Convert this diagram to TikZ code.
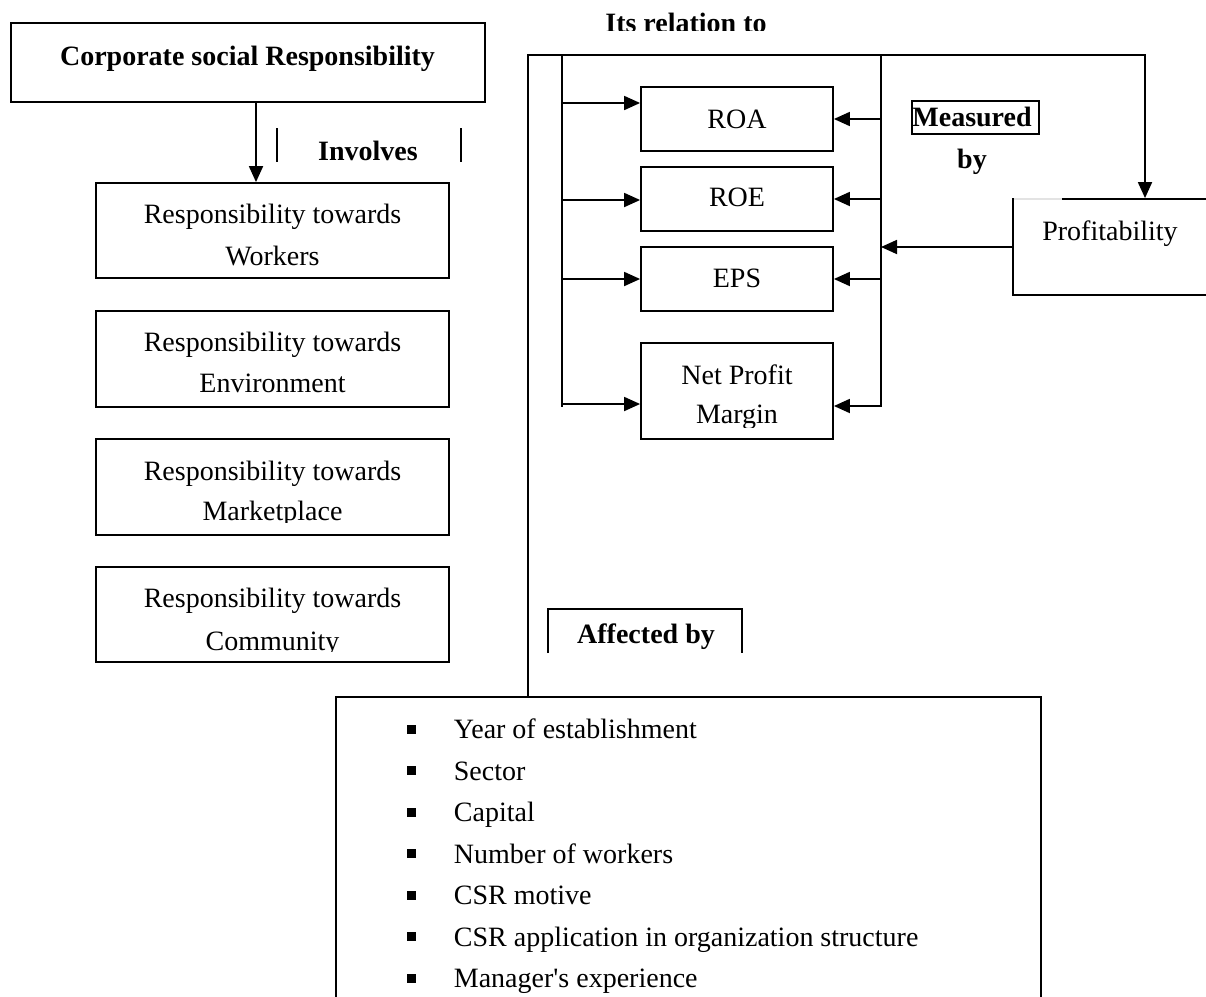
\documentclass[tikz,border=0pt]{standalone}
\usepackage{fontspec}
\setmainfont{Liberation Serif}
\usetikzlibrary{arrows.meta,calc}
\begin{document}
\begin{tikzpicture}[x=1pt,y=-1pt,
  line width=1.8pt,
  arr/.style={-{Triangle[length=16pt,width=14pt]}},
  tx/.style={font=\fontsize{28}{34}\selectfont, inner sep=0pt, anchor=base},
  bx/.style={font=\fontsize{28}{34}\selectfont\bfseries, inner sep=0pt, anchor=base},
  rbox/.style 2 args={draw, rectangle, inner sep=0pt, minimum width=#1, minimum height=#2},
]
\clip (0,0) rectangle (1206,996);
\fill[white] (0,0) rectangle (1206,996);

% ---- left column ----
\node[rbox={474pt}{79pt}] (csr) at (248,62.5) {};
\node[bx] (csrt) at (247.5,65) {Corporate social Responsibility};

\node[rbox={353pt}{95pt}] (w) at (272.5,230.5) {};
\node[tx] (w1) at (272.5,223.3) {Responsibility towards};
\node[tx] (w2) at (272.5,265) {Workers};

\node[rbox={353pt}{96pt}] (env) at (272.5,359) {};
\node[tx] (env1) at (272.5,351.7) {Responsibility towards};
\node[tx] (env2) at (272.5,392.7) {Environment};

\node[rbox={353pt}{96pt}] (mkt) at (272.5,487) {};
\node[tx] (mkt1) at (272.5,480) {Responsibility towards};
\begin{scope}
  \clip (96,439) rectangle (449,522);
  \node[tx] (mkt2) at (272.5,520) {Marketplace};
\end{scope}

\node[rbox={353pt}{95pt}] (com) at (272.5,614.5) {};
\node[tx] (com1) at (272.5,607.7) {Responsibility towards};
\begin{scope}
  \clip (96,567) rectangle (449,651);
  \node[tx] (com2) at (272.5,650) {Community};
\end{scope}

\coordinate (a1) at ($(csr.south)+(8,0)$);
\draw[arr] (a1) -- (a1 |- w.north);

\draw (277,128) -- (277,162);
\draw (461,128) -- (461,162);
\node[bx] (inv) at (368,160) {Involves};

% ---- title of relation ----
\begin{scope}
  \clip (500,0) rectangle (900,30);
  \node[bx] (rel) at (686,32.5) {Its relation to};
\end{scope}

% ---- measures ----
\node[rbox={192pt}{64pt}] (roa) at (737,119) {};
\node[tx] at (737,128.3) {ROA};
\node[rbox={192pt}{64pt}] (roe) at (737,199) {};
\node[tx] at (737,206.7) {ROE};
\node[rbox={192pt}{64pt}] (eps) at (737,279) {};
\node[tx] at (737,287) {EPS};
\node[rbox={192pt}{96pt}] (npm) at (737,391) {};
\node[tx] at (737,384) {Net Profit};
\begin{scope}
  \clip (641,343) rectangle (833,427);
  \node[tx] at (737,423) {Margin};
\end{scope}

% ---- profitability ----
\node[rbox={230pt}{96pt}] (prof) at (1128,247) {};
\draw[gray!22, line width=2pt] (1014,199) -- (1062,199);
\node[tx] at (1110,240) {Profitability};

\node[rbox={127pt}{33pt}, line width=1.6pt] (meas) at (975.5,117.5) {};
\node[bx] at (972,126.7) {Measured};
\node[bx] at (972,168) {by};

% ---- bottom box ----
\node[rbox={705pt}{330pt}] (bb) at (688.5,862) {};

\draw (548,653) -- (548,609) -- (742,609) -- (742,653);
\node[bx] (aff) at (646,643.3) {Affected by};

% ---- main connectors ----
\coordinate (tl) at (528,55);
\coordinate (tr) at (1145,55);
\draw[arr] (bb.north -| tl) -- (tl) -- (tr) -- (tr |- prof.north);

\coordinate (il) at (562,55);
\coordinate (ilb) at (562,407);
\draw (il) -- (ilb);
\coordinate (ir) at (881,55);
\coordinate (irb) at (881,407);
\draw (ir) -- (irb);

\coordinate (l1) at (562,103);
\coordinate (l2) at (562,200);
\coordinate (l3) at (562,279);
\coordinate (l4) at (562,404);
\draw[arr] (l1) -- (l1 -| roa.west);
\draw[arr] (l2) -- (l2 -| roe.west);
\draw[arr] (l3) -- (l3 -| eps.west);
\draw[arr] (l4) -- (l4 -| npm.west);

\coordinate (r1) at (881,119);
\coordinate (r2) at (881,199);
\coordinate (r3) at (881,279);
\coordinate (r4) at (881,406);
\draw[arr] (r1) -- (r1 -| roa.east);
\draw[arr] (r2) -- (r2 -| roe.east);
\draw[arr] (r3) -- (r3 -| eps.east);
\draw[arr] (r4) -- (r4 -| npm.east);

\draw[arr] (prof.west) -- (prof.west -| ir);

% ---- bullet list ----
\foreach \t [count=\i from 0] in {Year of establishment, Sector, Capital,
  Number of workers, CSR motive, CSR application in organization structure,
  Manager\textquotesingle s experience}{
  \pgfmathsetmacro{\yc}{729+41.5*\i}
  \fill (406.5,\yc-4.5) rectangle (415.5,\yc+4.5);
  \node[tx, anchor=base west] at (453,\yc+9.5) {\t};
}
\end{tikzpicture}
\end{document}
